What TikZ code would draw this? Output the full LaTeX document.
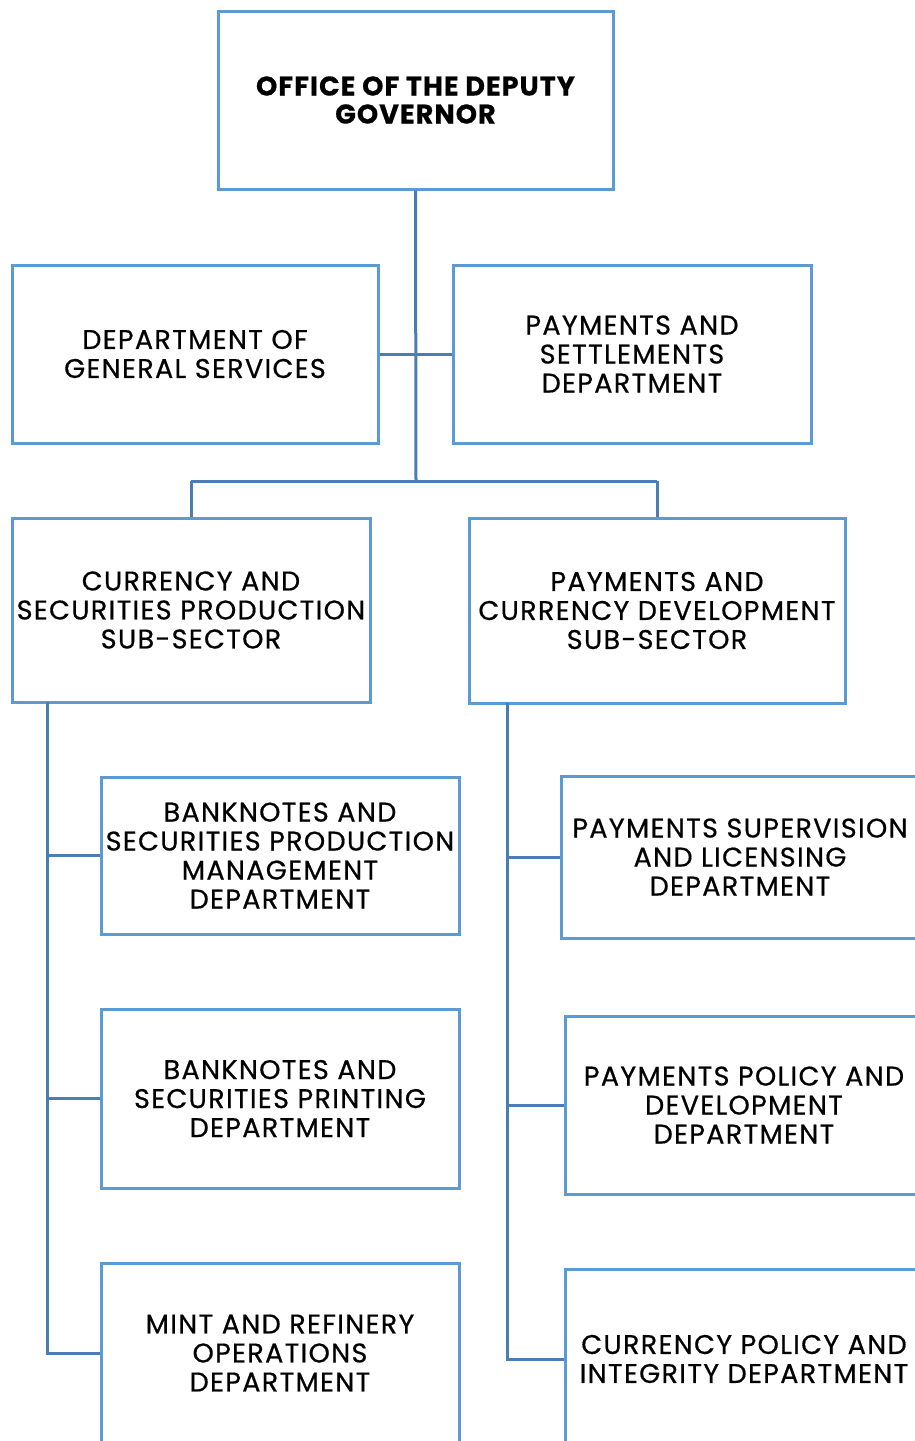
\documentclass[tikz,border=0pt]{standalone}
\usepackage{fontspec}
\setmainfont{Poppins}[LetterSpace=5, FakeBold=0.6]
\begin{document}
\begin{tikzpicture}[x=1pt,y=-1pt,
  unit/.style={draw=boxblue, line width=3pt, fill=white, inner sep=0pt,
    align=center, font=\fontsize{27}{29}\selectfont},
  head/.style={unit, font=\fontsize{27}{28}\selectfont\bfseries\addfontfeature{LetterSpace=4}},
  link/.style={draw=lineblue, line width=3pt}]
\definecolor{boxblue}{HTML}{5B9BD5}
\definecolor{lineblue}{HTML}{4A7DB3}
\useasboundingbox (0,0) rectangle (915,1441);
\clip (0,0) rectangle (915,1441);

\coordinate (j1) at (416,481);
\coordinate (lt) at (47,702);
\coordinate (rt) at (507,703);

% top level
\node[head, minimum width=395pt, minimum height=178pt] (top) at (415.5,100) {OFFICE OF THE DEPUTY\\GOVERNOR};
\node[unit, minimum width=366pt, minimum height=178pt] (dgs) at (195,354) {DEPARTMENT OF\\GENERAL SERVICES};
\node[unit, minimum width=358pt, minimum height=178pt] (psd) at (632,354) {PAYMENTS AND\\SETTLEMENTS\\DEPARTMENT};

% sub-sectors
\node[unit, minimum width=358pt, minimum height=184pt] (csp) at (191,610) {CURRENCY AND\\SECURITIES PRODUCTION\\SUB-SECTOR};
\node[unit, minimum width=376pt, minimum height=185pt] (pcd) at (657,610.5) {PAYMENTS AND\\CURRENCY DEVELOPMENT\\SUB-SECTOR};

% left column departments
\node[unit, minimum width=358pt, minimum height=157pt] (bspm) at (280,855.5) {BANKNOTES AND\\SECURITIES PRODUCTION\\MANAGEMENT\\DEPARTMENT};
\node[unit, minimum width=358pt, minimum height=179pt] (bspd) at (280,1098.5) {BANKNOTES AND\\SECURITIES PRINTING\\DEPARTMENT};
\node[unit, minimum width=358pt, minimum height=180pt] (mro) at (280,1353) {MINT AND REFINERY\\OPERATIONS\\DEPARTMENT};

% right column departments
\node[unit, minimum width=358pt, minimum height=162pt] (psl) at (740,857) {PAYMENTS SUPERVISION\\AND LICENSING\\DEPARTMENT};
\node[unit, minimum width=358pt, minimum height=178pt] (ppd) at (744,1105) {PAYMENTS POLICY AND\\DEVELOPMENT\\DEPARTMENT};
\node[unit, minimum width=358pt, minimum height=180pt] (cpi) at (744,1359) {CURRENCY POLICY AND\\INTEGRITY DEPARTMENT};

% trunk from the deputy governor
\draw[link] (top.south) -- (j1);
\draw[link] (dgs.east) -- (psd.west);
\draw[link] (j1 -| csp.north) -- (j1 -| pcd.north);
\draw[link] (csp.north) -- (csp.north |- j1);
\draw[link] (pcd.north) -- (pcd.north |- j1);

% left sub-sector tree
\draw[link] (lt) -- (lt |- mro.west) -- (mro.west);
\draw[link] (lt |- bspm.west) -- (bspm.west);
\draw[link] (lt |- bspd.west) -- (bspd.west);

% right sub-sector tree
\draw[link] (rt) -- (rt |- cpi.west) -- (cpi.west);
\draw[link] (rt |- psl.west) -- (psl.west);
\draw[link] (rt |- ppd.west) -- (ppd.west);
\end{tikzpicture}
\end{document}
